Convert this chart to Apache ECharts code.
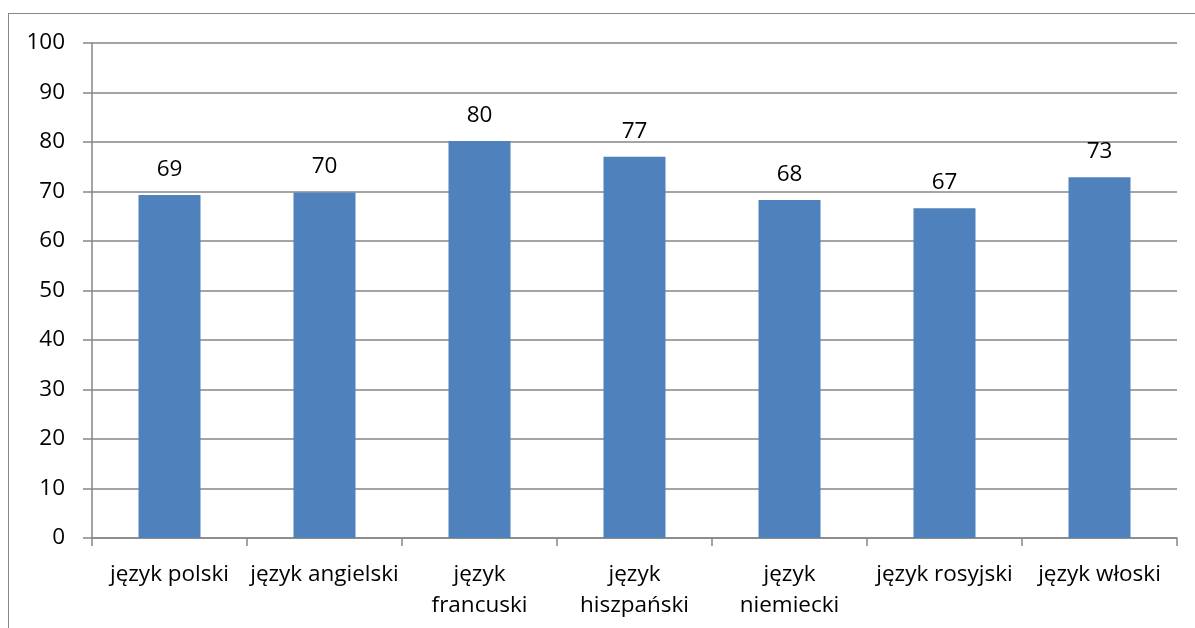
<!DOCTYPE html>
<html>
<head>
<meta charset="utf-8">
<script src="https://cdn.jsdelivr.net/npm/echarts@6/dist/echarts.min.js"></script>
<style>
  html, body { margin: 0; padding: 0; background: #fff; overflow: hidden; }
  #frame { position: absolute; left: 8px; top: 13px; width: 1200px; height: 640px; border: 1px solid #868686; box-sizing: border-box; }
  #chart { position: absolute; left: 0; top: 0; width: 1195px; height: 628px; }
</style>
</head>
<body>
<div id="frame"></div>
<div id="chart"></div>
<script>
const categories = ['język polski', 'język angielski', 'język\nfrancuski', 'język\nhiszpański', 'język\nniemiecki', 'język rosyjski', 'język włoski']
const values = [69.3, 69.8, 80.2, 77.0, 68.3, 66.6, 72.9]
const yTicks = { min: 0, max: 100, interval: 10 }

const chart = echarts.init(document.getElementById('chart'))
const font = "'Open Sans', 'Liberation Sans', sans-serif"

chart.setOption({
  animation: false,
  grid: { left: 92, right: 18, top: 43, bottom: 90 },
  xAxis: {
    type: 'category',
    data: categories,
    axisLine: { lineStyle: { color: '#868686', width: 1.5 } },
    axisTick: { show: true, length: 8, lineStyle: { color: '#868686', width: 1.5 } },
    axisLabel: { color: '#000', fontSize: 22.5, fontFamily: font, margin: 21, lineHeight: 31, interval: 0 }
  },
  yAxis: {
    type: 'value',
    min: yTicks.min,
    max: yTicks.max,
    interval: yTicks.interval,
    axisLine: { show: true, lineStyle: { color: '#868686', width: 1.5 } },
    axisTick: { show: true, length: 9, lineStyle: { color: '#868686', width: 1.5 } },
    axisLabel: { color: '#000', fontSize: 22.5, fontFamily: font, margin: 27 },
    splitLine: { lineStyle: { color: '#868686', width: 1.5 } }
  },
  series: [
    {
      type: 'bar',
      data: values,
      barCategoryGap: '60%',
      itemStyle: { color: '#4F81BD' },
      label: {
        show: true,
        position: 'top',
        distance: 14,
        color: '#000',
        fontSize: 22.5,
        fontFamily: font,
        formatter: p => Math.round(p.value)
      }
    }
  ]
})
</script>
</body>
</html>
